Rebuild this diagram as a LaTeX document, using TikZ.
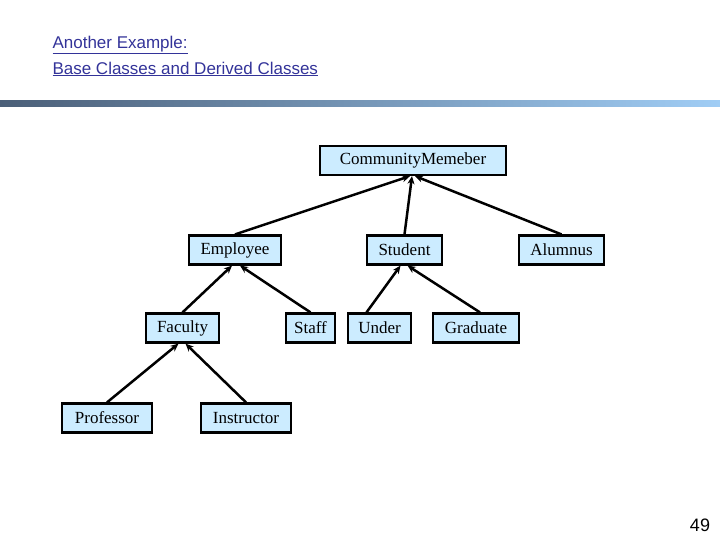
\documentclass[tikz,border=0pt]{standalone}
\usepackage{fontspec}
\setmainfont{Liberation Serif}
\newfontfamily\arialf{Liberation Sans}
\usetikzlibrary{arrows.meta}
\definecolor{boxfill}{RGB}{204,236,255}
\definecolor{titleblue}{RGB}{51,51,153}
\definecolor{barL}{RGB}{75,95,120}
\definecolor{barR}{RGB}{160,205,245}
\begin{document}
\begin{tikzpicture}[x=1pt,y=-1pt,
  cls/.style={draw=black,line width=2.2pt,fill=boxfill,font=\fontsize{17}{17}\selectfont,minimum height=29pt,inner sep=0pt},
  inh/.style={line width=2.5pt,-{Stealth[length=8pt,width=7pt]}}]
\useasboundingbox (0,0) rectangle (720,540);
\shade[left color=barL,right color=barR] (0,101) rectangle (720,107);
\node[anchor=west,text=titleblue,font=\arialf\fontsize{17}{17}\selectfont,align=left] (t1) at (49,45) {\underline{Another Example:}};
\node[anchor=west,text=titleblue,font=\arialf\fontsize{17}{17}\selectfont,align=left] (t2) at (49,69) {\underline{Base Classes and Derived Classes}};
\node[cls,minimum width=186pt] (cm) at (413,160.5) {CommunityMemeber};
\node[cls,minimum width=92pt] (emp) at (235,250) {Employee};
\node[cls,minimum width=75pt] (stu) at (404.5,250) {Student};
\node[cls,minimum width=85pt] (alu) at (561.5,250) {Alumnus};
\node[cls,minimum width=73pt] (fac) at (182.5,328) {Faculty};
\node[cls,minimum width=49pt] (sta) at (310.5,328) {Staff};
\node[cls,minimum width=63pt] (und) at (379.5,328) {Under};
\node[cls,minimum width=86pt] (gra) at (476,328) {Graduate};
\node[cls,minimum width=90pt] (pro) at (107,418) {Professor};
\node[cls,minimum width=90pt] (ins) at (246,418) {Instructor};
\node[font=\arialf\fontsize{18}{18}\selectfont] (pg) at (700,525) {49};
\draw[inh] (emp.north) -- ([xshift=-3pt]cm.south);
\draw[inh] (stu.north) -- ([xshift=-1pt]cm.south);
\draw[inh] (alu.north) -- ([xshift=2pt]cm.south);
\draw[inh] ([xshift=0pt]fac.north) -- ([xshift=-3pt]emp.south);
\draw[inh] (sta.north) -- ([xshift=5pt]emp.south);
\draw[inh] ([xshift=-13pt]und.north) -- ([xshift=-4pt]stu.south);
\draw[inh] ([xshift=4pt]gra.north) -- ([xshift=3pt]stu.south);
\draw[inh] (pro.north) -- ([xshift=-4pt]fac.south);
\draw[inh] (ins.north) -- ([xshift=3pt]fac.south);
\end{tikzpicture}
\end{document}
